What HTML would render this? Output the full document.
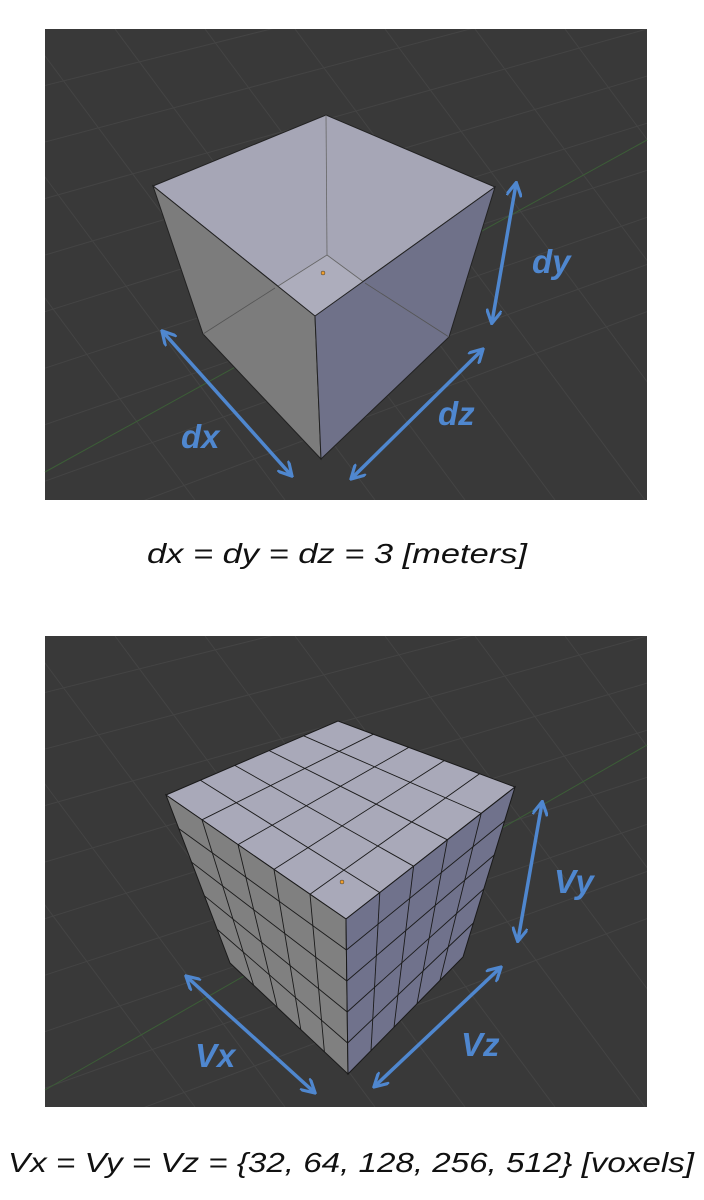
<!DOCTYPE html>
<html><head><meta charset="utf-8"><style>
html,body{margin:0;padding:0;background:#fff;width:704px;height:1200px;overflow:hidden}
svg{display:block}
</style></head><body>
<svg id="s" width="704" height="1200" xmlns="http://www.w3.org/2000/svg">
<defs>
<marker id="ah" viewBox="0 0 10 10" refX="8" refY="5" markerWidth="4.5" markerHeight="4.5" orient="auto-start-reverse">
<path d="M0,0 L9,5 L0,10" fill="none" stroke="#4f87cf" stroke-width="2"/>
</marker>
<clipPath id="c1"><rect x="45" y="29" width="602" height="471"/></clipPath>
<clipPath id="c2"><rect x="45" y="636" width="602" height="471"/></clipPath>
</defs>
<rect x="45" y="29" width="602" height="471" fill="#393939"/>
<rect x="45" y="636" width="602" height="471" fill="#393939"/>
<g id="g1" clip-path="url(#c1)" stroke="#444" stroke-width="1"></g>
<g id="g2" clip-path="url(#c2)" stroke="#444" stroke-width="1"></g>
<line x1="45" y1="472" x2="647" y2="140" stroke="#3c5e37" stroke-width="1"/>
<line x1="45" y1="1090" x2="647" y2="745" stroke="#3c5e37" stroke-width="1"/>

<g stroke="#222" stroke-width="1">
<polygon points="153,186 326,115 495,187 315,316" fill="#a6a6b6"/>
<polygon points="327,255 275,288 315,316 365,283" fill="#adadbc" stroke="none"/>
<line x1="326" y1="115" x2="327" y2="255" stroke="#666" stroke-width="0.8"/>
<line x1="327" y1="255" x2="275" y2="288" stroke="#666" stroke-width="0.8"/>
<line x1="327" y1="255" x2="365" y2="283" stroke="#666" stroke-width="0.8"/>
<polygon points="153,186 315,316 321,459 203,334" fill="#7c7c7c"/>
<polygon points="315,316 495,187 449,337 321,459" fill="#6f7189"/>
<line x1="275" y1="288" x2="203" y2="334" stroke="#555" stroke-width="0.8"/>
<line x1="365" y1="283" x2="449" y2="337" stroke="#555" stroke-width="0.8"/>
<circle cx="323" cy="273" r="2" fill="#f0a030" stroke="#333" stroke-width="0.5"/>
</g>

<g id="vcube"></g>

<g stroke="#4f87cf" stroke-width="3.5" marker-start="url(#ah)" marker-end="url(#ah)">
<line x1="516" y1="184" x2="492" y2="322"/>
<line x1="482" y1="350" x2="352" y2="478"/>
<line x1="163" y1="332" x2="291" y2="475"/>
<line x1="542" y1="803" x2="518" y2="940"/>
<line x1="500" y1="968" x2="375" y2="1086"/>
<line x1="187" y1="977" x2="314" y2="1092"/>
</g>
<g font-family="Liberation Sans, sans-serif" font-style="italic" font-weight="bold" font-size="33" fill="#4f87cf">
<text x="532" y="273">dy</text>
<text x="438" y="425">dz</text>
<text x="181" y="448">dx</text>
<text x="554" y="893">Vy</text>
<text x="461" y="1056">Vz</text>
<text x="195" y="1067">Vx</text>
</g>
<g font-family="Liberation Sans, sans-serif" font-style="italic" font-size="28" fill="#111">
<text x="147" y="563" textLength="380" lengthAdjust="spacingAndGlyphs">dx = dy = dz = 3 [meters]</text>
<text x="8" y="1172" textLength="686" lengthAdjust="spacingAndGlyphs">Vx = Vy = Vz = {32, 64, 128, 256, 512} [voxels]</text>
</g>
</svg>
<script>
const NS='http://www.w3.org/2000/svg';
function mk(tag,attrs,parent){const e=document.createElementNS(NS,tag);for(const k in attrs)e.setAttribute(k,attrs[k]);parent.appendChild(e);return e;}
[['g1',29,500],['g2',636,1107]].forEach(([id,y0,y1])=>{
  const g=document.getElementById(id);
  const h=y1-y0;
  for(let i=0;i<9;i++){
    const l=mk('line',{x1:45,y1:y0+h*(0.12+i*0.12),x2:647,y2:y0+h*(-0.2+i*0.1)},g);
    
    
  }
  for(let i=0;i<9;i++){
    const l=mk('line',{x1:45+i*90-200,y1:y0,x2:45+i*90+150,y2:y1},g);
    
    
  }
});
const vc=document.getElementById('vcube');
const N=5;
const faces=[
 {name:'voxel-top-face',p:[[166,795],[338,721],[515,787],[346,919]],fill:'#a9a9b9'},
 {name:'voxel-left-face',p:[[166,795],[346,919],[348,1074],[230,963]],fill:'#808080'},
 {name:'voxel-right-face',p:[[346,919],[515,787],[463,957],[348,1074]],fill:'#70728c'}
];
function bl(p,u,v){const a=p[0],b=p[1],c=p[2],d=p[3];
 const x0=a[0]+(b[0]-a[0])*u,y0=a[1]+(b[1]-a[1])*u,x1=d[0]+(c[0]-d[0])*u,y1=d[1]+(c[1]-d[1])*u;
 return [x0+(x1-x0)*v,y0+(y1-y0)*v];}
faces.forEach(f=>{
 const poly=mk('polygon',{points:f.p.map(q=>q.join(',')).join(' '),fill:f.fill,stroke:'#1a1a1a','stroke-width':1},vc);
 
 
 for(let i=1;i<N;i++){
  const a=bl(f.p,i/N,0),b=bl(f.p,i/N,1);
  const l1=mk('line',{x1:a[0],y1:a[1],x2:b[0],y2:b[1],stroke:'#1a1a1a','stroke-width':0.9},vc);
  
  
  const c=bl(f.p,0,i/N),d=bl(f.p,1,i/N);
  const l2=mk('line',{x1:c[0],y1:c[1],x2:d[0],y2:d[1],stroke:'#1a1a1a','stroke-width':0.9},vc);
  
  
 }
});
const dot=mk('circle',{cx:342,cy:882,r:2,fill:'#f0a030',stroke:'#333','stroke-width':0.5},vc);


</script>
</body></html>
